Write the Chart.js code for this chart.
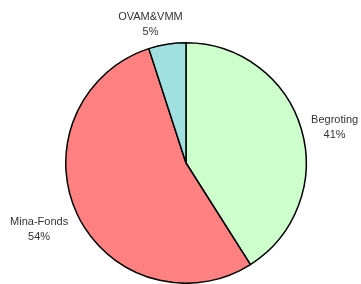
<!DOCTYPE html>
<html>
<head>
<meta charset="utf-8">
<script src="https://cdn.jsdelivr.net/npm/chart.js@4"></script>
<style>
  html, body { margin: 0; padding: 0; background: #fff; overflow: hidden; }
  #wrap { width: 361px; height: 284px; position: relative; }
</style>
</head>
<body>
<div id="wrap"><canvas id="taart"></canvas></div>
<script>
const labels = ["Begroting", "Mina-Fonds", "OVAM&VMM"];
const aandelen = [41, 54, 5];
const kleuren = ["#ccffcc", "#ff8080", "#a0e0e0"];

// labels buiten de taart, met percentage op tweede regel
const buitenLabels = {
  id: "buitenLabels",
  afterDatasetsDraw(chart) {
    const ctx = chart.ctx;
    const meta = chart.getDatasetMeta(0);
    const totaal = aandelen.reduce((a, b) => a + b, 0);
    ctx.save();
    ctx.font = "11px 'Liberation Sans', Arial, sans-serif";
    ctx.fillStyle = "#333";
    ctx.textAlign = "center";
    ctx.textBaseline = "middle";
    const lijn = 15;
    meta.data.forEach((arc, i) => {
      const p = arc.getProps(["x", "y", "startAngle", "endAngle", "outerRadius"], true);
      const mid = (p.startAngle + p.endAngle) / 2;
      const r = p.outerRadius + 10;
      const c = Math.cos(mid), s = Math.sin(mid);
      const ax = p.x + c * r;
      const ay = p.y + s * r;
      const regels = [labels[i], Math.round(aandelen[i] / totaal * 100) + "%"];
      const w = Math.max(...regels.map(t => ctx.measureText(t).width));
      const h = lijn * regels.length;
      const cx = ax + Math.sign(c) * Math.min(1, Math.abs(c) * 3) * w / 2;
      const cy = ay + s * h / 2 + 5;
      regels.forEach((t, k) => {
        ctx.fillText(t, cx, cy - h / 2 + lijn / 2 + k * lijn);
      });
    });
    ctx.restore();
  }
};

new Chart(document.getElementById("taart"), {
  type: "pie",
  data: {
    labels: labels,
    datasets: [{
      data: aandelen,
      backgroundColor: kleuren,
      borderColor: "#000",
      borderWidth: 1.5
    }]
  },
  options: {
    responsive: true,
    maintainAspectRatio: false,
    animation: false,
    layout: { padding: { top: 42, bottom: -2, left: 11, right: 0 } },
    plugins: {
      legend: { display: false },
      tooltip: { enabled: false }
    }
  },
  plugins: [buitenLabels]
});
</script>
</body>
</html>
